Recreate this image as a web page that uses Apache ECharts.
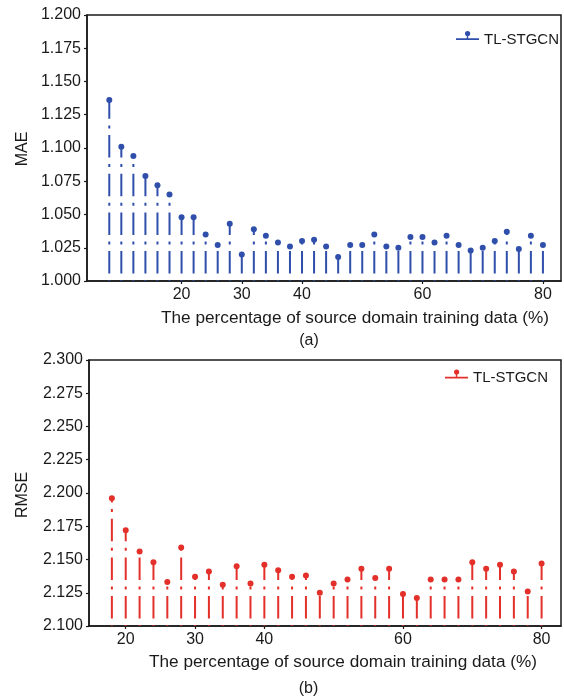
<!DOCTYPE html>
<html>
<head>
<meta charset="utf-8">
<style>
  html, body { margin: 0; padding: 0; background: #fff; }
  #chart { width: 564px; height: 698px; }
</style>
<script src="https://cdn.jsdelivr.net/npm/echarts@6/dist/echarts.min.js"></script>
</head>
<body>
<div id="chart"></div>
<script>
// Share of source-domain training data (%) for each run
const maeX = [8, 10, 12, 14, 16, 18, 20, 22, 24, 26, 28, 30, 32, 34, 36, 38, 40,
  42, 44, 46, 48, 50, 52, 54, 56, 58, 60, 62, 64, 66, 68, 70, 72, 74, 76, 78, 80];
const maeValues = [1.136, 1.101, 1.094, 1.079, 1.072, 1.065, 1.048, 1.048, 1.035, 1.027,
  1.043, 1.020, 1.039, 1.034, 1.029, 1.026, 1.030, 1.031, 1.026, 1.018, 1.027, 1.027,
  1.035, 1.026, 1.025, 1.033, 1.033, 1.029, 1.034, 1.027, 1.023, 1.025, 1.030, 1.037,
  1.024, 1.034, 1.027];

const rmseX = [18, 20, 22, 24, 26, 28, 30, 32, 34, 36, 38, 40, 42, 44, 46, 48,
  50, 52, 54, 56, 58, 60, 62, 64, 66, 68, 70, 72, 74, 76, 78, 80];
const rmseValues = [2.196, 2.172, 2.156, 2.148, 2.133, 2.159, 2.137, 2.141, 2.131, 2.145,
  2.132, 2.146, 2.142, 2.137, 2.138, 2.125, 2.132, 2.135, 2.143, 2.136, 2.143, 2.124,
  2.121, 2.135, 2.135, 2.135, 2.148, 2.143, 2.146, 2.141, 2.126, 2.147];

const xTickLabels = [20, 30, 40, 60, 80];
const maeRange = [1.0, 1.2];
const rmseRange = [2.1, 2.3];
const seriesName = 'TL-STGCN';
const xTitle = 'The percentage of source domain training data (%)';

const BLUE = '#2f4fab';
const RED = '#e3302a';
const INK = '#1a1a1a';
const FONT = 'Liberation Sans, Arial, Helvetica, sans-serif';

// legend glyph: baseline, short stem and a dot on top (tiny point below keeps it centred)
const stemIcon = 'path://M0,7.3 L23,7.3 L23,9 L0,9 Z M10.8,4 L12.2,4 L12.2,7.3 L10.8,7.3 Z ' +
  'M9,2.6 A2.6,2.6 0 1 1 14.2,2.6 A2.6,2.6 0 1 1 9,2.6 Z M11.5,16.99 L11.51,16.99 L11.51,17 L11.5,17 Z';

function stemRenderer(color, base) {
  return function (params, api) {
    const x = api.value(0);
    const top = api.coord([x, api.value(1)]);
    const bottom = api.coord([x, base]);
    return {
      type: 'group',
      children: [
        {
          type: 'line',
          shape: { x1: bottom[0], y1: bottom[1], x2: top[0], y2: top[1] },
          style: { stroke: color, lineWidth: 2, lineDash: [3, 6.6, 22.5, 6.6], lineDashOffset: 2.2 }
        },
        {
          type: 'circle',
          shape: { cx: top[0], cy: top[1], r: 3 },
          style: { fill: color }
        }
      ]
    };
  };
}

function xAxisFor(gridIndex, min, max) {
  return {
    type: 'value', gridIndex, min, max,
    axisLine: { show: true, onZero: false, lineStyle: { color: INK, width: 1.5 } },
    axisTick: { show: true, length: 3, customValues: xTickLabels, lineStyle: { color: INK, width: 1.2 } },
    axisLabel: { customValues: xTickLabels, margin: 6, fontSize: 16, color: INK, fontFamily: FONT },
    splitLine: { show: false }
  };
}

function yAxisFor(gridIndex, range) {
  return {
    type: 'value', gridIndex, min: range[0], max: range[1], interval: 0.025,
    axisLine: { show: true, lineStyle: { color: INK, width: 1.5 } },
    axisTick: { show: true, length: 3, lineStyle: { color: INK, width: 1.2 } },
    axisLabel: {
      margin: 6, fontSize: 16, color: INK, fontFamily: FONT,
      formatter: v => v.toFixed(3)
    },
    splitLine: { show: false }
  };
}

function legendFor(left, top, color) {
  return {
    left, top, orient: 'horizontal',
    itemWidth: 23, itemHeight: 17,
    selectedMode: false,
    textStyle: { fontSize: 15, color: INK, fontFamily: FONT, lineHeight: 17 },
    data: [{ name: seriesName, icon: stemIcon, itemStyle: { color } }]
  };
}

function label(text, x, y, rotation, size) {
  return {
    type: 'text', x, y, rotation: rotation || 0,
    style: {
      text, fill: INK, font: (size || 16) + 'px ' + FONT,
      textAlign: 'center', textVerticalAlign: 'middle'
    }
  };
}

const chart = echarts.init(document.getElementById('chart'), null, { renderer: 'canvas' });

chart.setOption({
  animation: false,
  backgroundColor: '#fff',
  grid: [
    { left: 87, top: 15, width: 474, height: 266, show: true, borderColor: INK, borderWidth: 1.5 },
    { left: 89, top: 360, width: 472, height: 266, show: true, borderColor: INK, borderWidth: 1.5 }
  ],
  xAxis: [xAxisFor(0, 4.3, 83), xAxisFor(1, 14.7, 82.8)],
  yAxis: [yAxisFor(0, maeRange), yAxisFor(1, rmseRange)],
  legend: [legendFor(451, 26, BLUE), legendFor(440, 364.5, RED)],
  graphic: [
    label('MAE', 22.5, 149, Math.PI / 2),
    label(xTitle, 355, 318.5, 0, 17.2),
    label('(a)', 309, 341),
    label('RMSE', 22.5, 495, Math.PI / 2),
    label(xTitle, 343, 662, 0, 17.2),
    label('(b)', 308.5, 688.5)
  ],
  series: [
    {
      name: seriesName, type: 'custom', xAxisIndex: 0, yAxisIndex: 0,
      itemStyle: { color: BLUE },
      encode: { x: 0, y: 1 },
      data: maeX.map((x, i) => [x, maeValues[i]]),
      renderItem: stemRenderer(BLUE, maeRange[0])
    },
    {
      name: seriesName, type: 'custom', xAxisIndex: 1, yAxisIndex: 1,
      itemStyle: { color: RED },
      encode: { x: 0, y: 1 },
      data: rmseX.map((x, i) => [x, rmseValues[i]]),
      renderItem: stemRenderer(RED, rmseRange[0])
    }
  ]
});
</script>
</body>
</html>
